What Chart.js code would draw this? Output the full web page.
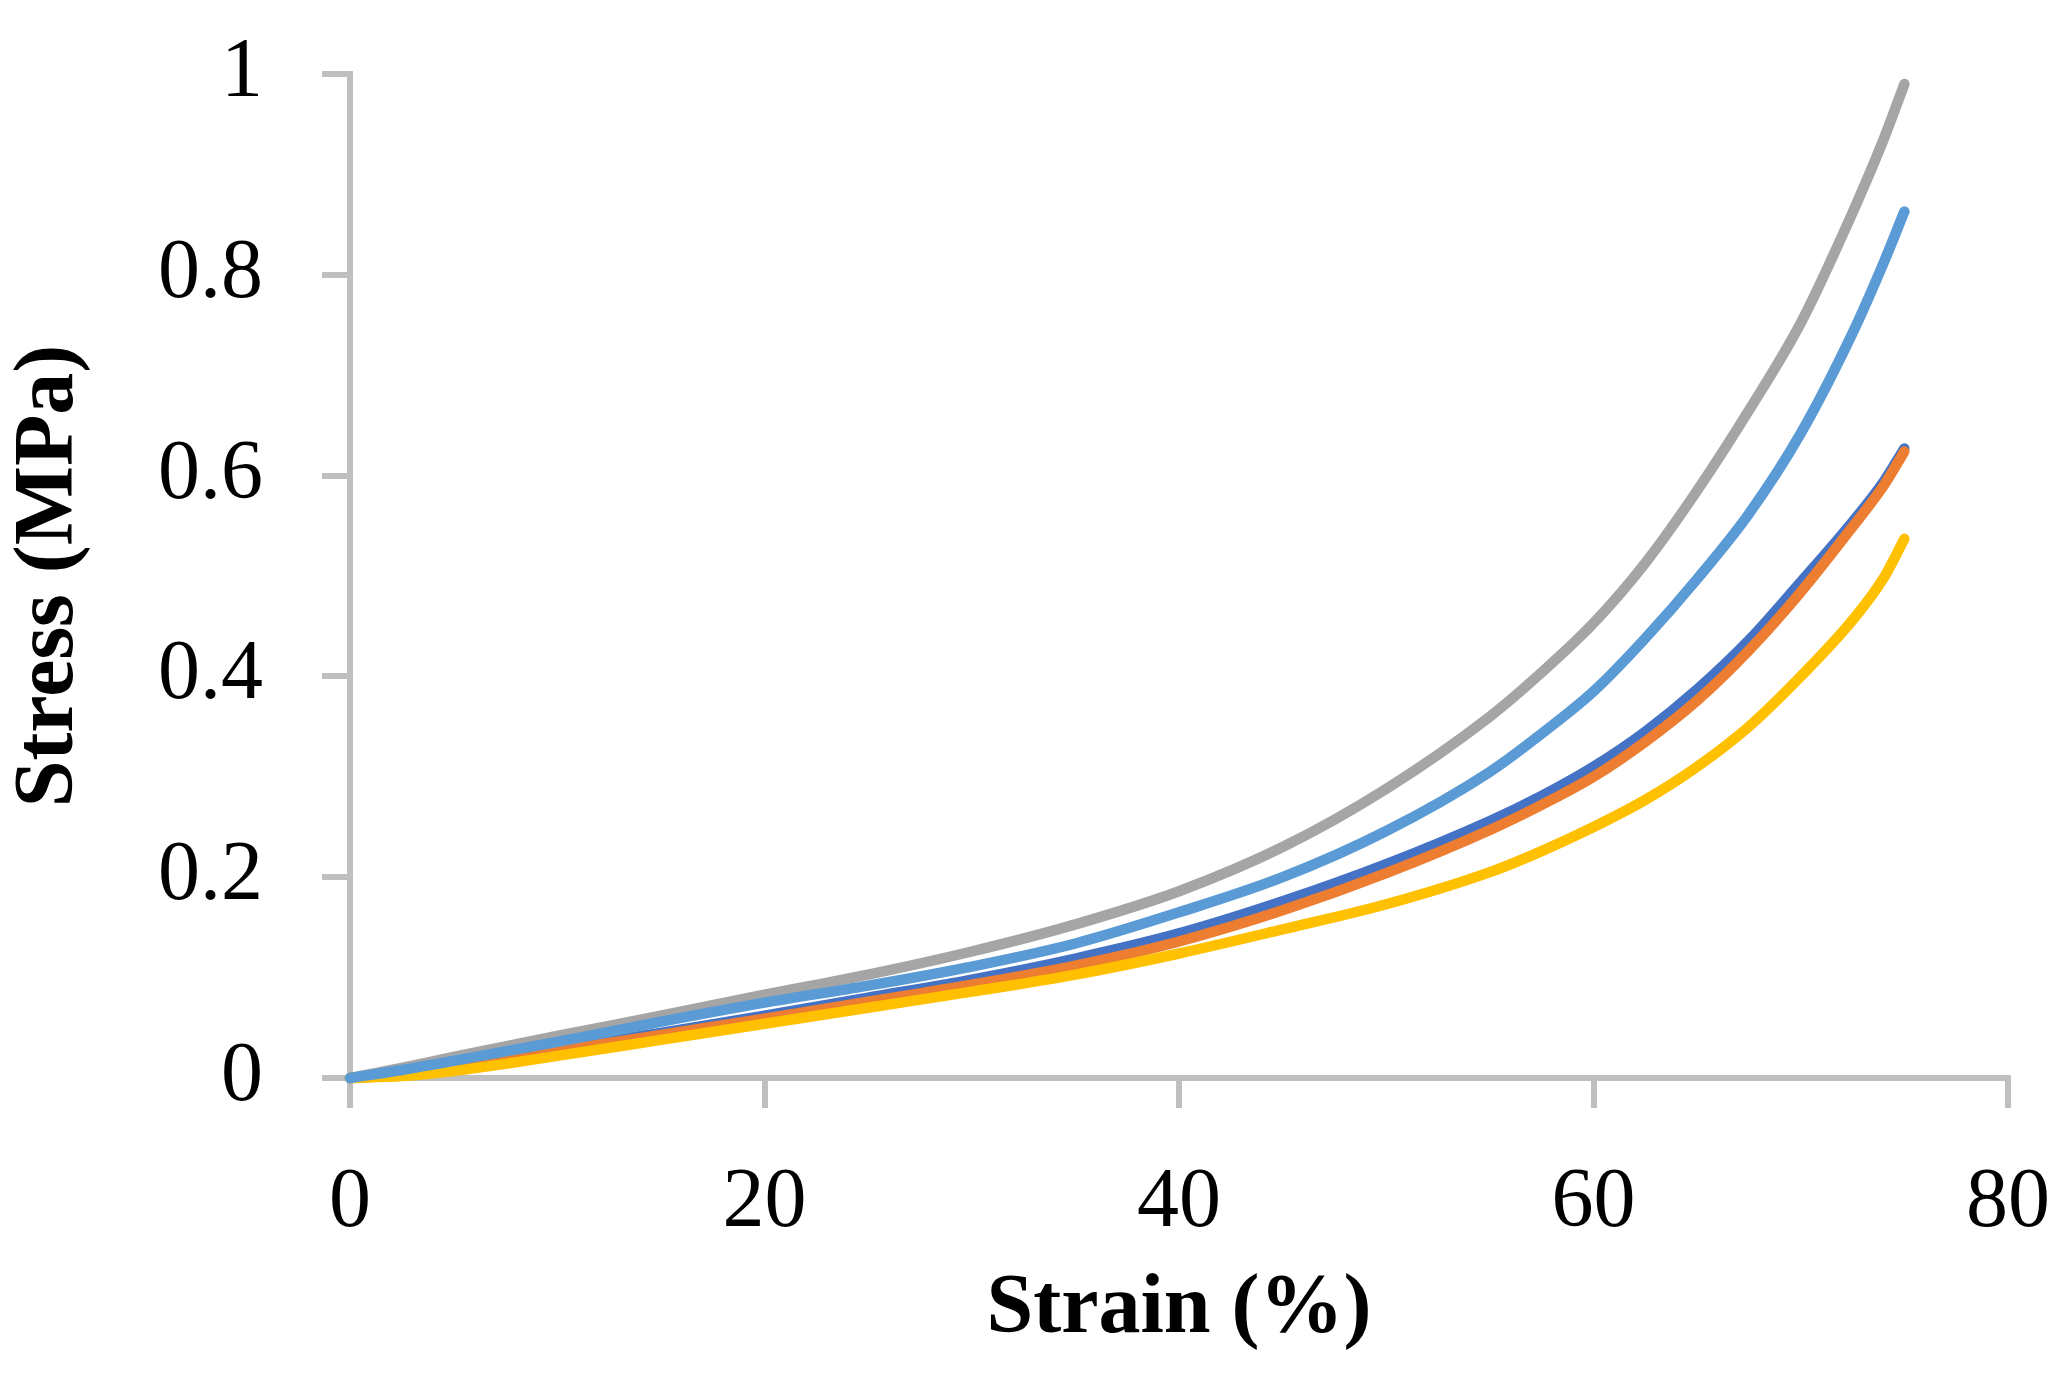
<!DOCTYPE html>
<html>
<head>
<meta charset="utf-8">
<script src="https://cdn.jsdelivr.net/npm/chart.js@4.4.1/dist/chart.umd.min.js"></script>
<style>
  html, body { margin: 0; padding: 0; background: #fff; }
  #chart { display: block; }
</style>
</head>
<body>
<canvas id="chart" width="2068" height="1396"></canvas>
<script>
// Strain (%) sample points shared by every curve
const strain = [0, 2.5, 5, 10, 15, 20, 25, 30, 35, 40, 45, 50, 55, 57.5, 60, 62.5, 65, 67.5, 70, 72.5, 74, 75];

// Stress (MPa), one array per specimen
const stressBlue   = [0, 0.004, 0.012, 0.029, 0.045, 0.062, 0.080, 0.098, 0.119, 0.144, 0.176, 0.213, 0.256, 0.281, 0.310, 0.345, 0.387, 0.436, 0.494, 0.554, 0.594, 0.627];
const stressOrange = [0, 0.0035, 0.011, 0.027, 0.043, 0.059, 0.076, 0.093, 0.112, 0.136, 0.167, 0.204, 0.247, 0.272, 0.300, 0.335, 0.376, 0.426, 0.484, 0.549, 0.590, 0.624];
const stressGray   = [0, 0.010, 0.021, 0.042, 0.062, 0.083, 0.103, 0.126, 0.153, 0.186, 0.230, 0.288, 0.360, 0.404, 0.453, 0.513, 0.585, 0.665, 0.752, 0.862, 0.935, 0.990];
const stressYellow = [0, 0.002, 0.007, 0.022, 0.038, 0.054, 0.070, 0.086, 0.103, 0.124, 0.148, 0.173, 0.205, 0.226, 0.250, 0.277, 0.310, 0.350, 0.400, 0.456, 0.498, 0.537];
const stressLight  = [0, 0.008, 0.017, 0.036, 0.056, 0.075, 0.092, 0.111, 0.134, 0.165, 0.200, 0.246, 0.305, 0.343, 0.385, 0.438, 0.497, 0.562, 0.642, 0.742, 0.812, 0.863];

const xTickLabels = ['0', '20', '40', '60', '80'];
const yTickLabels = ['0', '0.2', '0.4', '0.6', '0.8', '1'];

const AXIS_GREY = '#bfbfbf';
const SERIF = "'Palatino Linotype', 'Book Antiqua', 'Liberation Serif', serif";

function toPoints(ys) {
  return strain.map((x, i) => ({ x, y: ys[i] }));
}

// Excel draws series 1 first, so the last one ends up on top
function curve(ys, color, order) {
  return {
    data: toPoints(ys),
    borderColor: color,
    backgroundColor: color,
    borderWidth: 10.5,
    borderCapStyle: 'round',
    borderJoinStyle: 'round',
    pointRadius: 0,
    showLine: true,
    fill: false,
    cubicInterpolationMode: 'monotone',
    clip: false,
    order,
  };
}

// the big tick paddings would otherwise push the plot area in from the top/right
function noOverflow(scale) {
  scale.paddingTop = 0;
  scale.paddingBottom = 0;
  scale.paddingLeft = 0;
  scale.paddingRight = 0;
}

Chart.defaults.font.family = SERIF;
Chart.defaults.color = '#000';

new Chart(document.getElementById('chart'), {
  type: 'scatter',
  data: {
    datasets: [
      curve(stressBlue, '#4472C4', 5),
      curve(stressOrange, '#ED7D31', 4),
      curve(stressGray, '#A5A5A5', 3),
      curve(stressYellow, '#FFC000', 2),
      curve(stressLight, '#5B9BD5', 1),
    ],
  },
  options: {
    responsive: false,
    devicePixelRatio: 1,
    animation: false,
    layout: { padding: { top: 74, right: 60, left: 0, bottom: 0 } },
    plugins: {
      legend: { display: false },
      tooltip: { enabled: false },
    },
    scales: {
      x: {
        type: 'linear',
        min: 0,
        max: 80,
        afterFit: (scale) => { scale.height = 318; noOverflow(scale); },
        ticks: {
          stepSize: 20,
          padding: 46,
          font: { size: 84 },
          color: '#000',
          callback: (v, i) => xTickLabels[i],
        },
        grid: {
          drawOnChartArea: false,
          tickLength: 30,
          color: AXIS_GREY,
          lineWidth: 6,
        },
        border: { display: true, color: AXIS_GREY, width: 6 },
        title: {
          display: true,
          text: 'Strain (%)',
          font: { size: 84, weight: 'bold', lineHeight: 1.2 },
          color: '#000',
          padding: { top: 0, bottom: 35 },
        },
      },
      y: {
        type: 'linear',
        min: 0,
        max: 1,
        afterFit: (scale) => { scale.width = 350; noOverflow(scale); },
        ticks: {
          stepSize: 0.2,
          padding: 59,
          font: { size: 84 },
          color: '#000',
          callback: (v, i) => yTickLabels[i],
        },
        grid: {
          drawOnChartArea: false,
          tickLength: 28,
          color: AXIS_GREY,
          lineWidth: 6,
        },
        border: { display: true, color: AXIS_GREY, width: 6 },
        title: {
          display: true,
          text: 'Stress (MPa)',
          font: { size: 84, weight: 'bold', lineHeight: 1.2 },
          color: '#000',
          padding: { top: 0, bottom: 0 },
        },
      },
    },
  },
});
</script>
</body>
</html>
